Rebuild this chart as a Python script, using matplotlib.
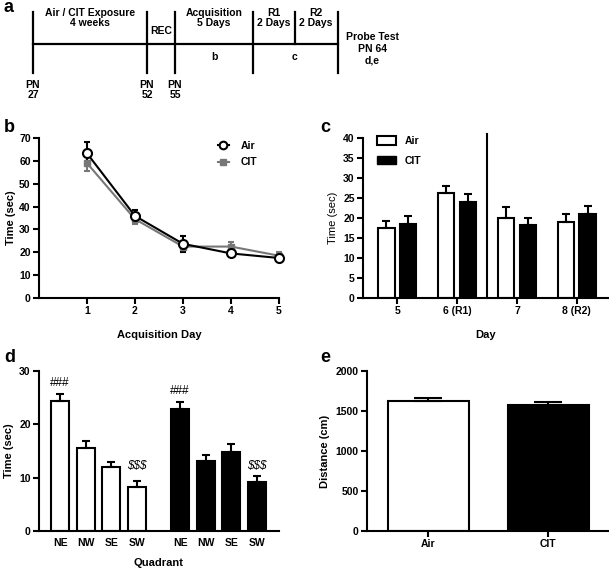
import numpy as np
import matplotlib
matplotlib.use("Agg")
import matplotlib.pyplot as plt
from matplotlib.patches import Patch
from matplotlib.lines import Line2D

plt.rcParams['font.family'] = ['Liberation Sans', 'DejaVu Sans']
plt.rcParams['font.weight'] = 'bold'
plt.rcParams['axes.labelweight'] = 'bold'

# --- data ---
acq_days = [1, 2, 3, 4, 5]
acq_air = [63.3, 35.9, 23.7, 19.5, 17.5]
acq_air_err = [5.0, 2.5, 3.5, 1.5, 1.5]
acq_cit = [59.0, 34.5, 22.5, 22.5, 18.5]
acq_cit_err = [3.5, 2.0, 2.5, 2.0, 1.5]

day_labels = ["5", "6 (R1)", "7", "8 (R2)"]
day_air = [17.5, 26.2, 20.0, 19.0]
day_air_err = [1.7, 1.8, 2.7, 2.0]
day_cit = [18.4, 23.9, 18.2, 21.1]
day_cit_err = [2.0, 2.1, 1.8, 1.9]

quadrants = ["NE", "NW", "SE", "SW"]
quad_air = [24.4, 15.5, 12.0, 8.2]
quad_air_err = [1.3, 1.3, 0.9, 1.2]
quad_cit = [22.8, 13.2, 14.9, 9.2]
quad_cit_err = [1.4, 1.1, 1.4, 1.1]

groups = ["Air", "CIT"]
distance = [1620, 1580]
distance_err = [45, 30]

W, H = 609, 570
fig = plt.figure(figsize=(W / 100, H / 100), dpi=100)


def px_axes(left, top, right, bottom):
    # axes placed by pixel box
    return fig.add_axes([left / W, 1 - bottom / H, (right - left) / W, (bottom - top) / H])


def style(ax):
    for s in ["top", "right"]:
        ax.spines[s].set_visible(False)
    for s in ["left", "bottom"]:
        ax.spines[s].set_linewidth(1.5)
    ax.tick_params(width=1.5, length=4, labelsize=7.5, pad=2)


# --- panel a: timeline ---
axa = fig.add_axes([0, 0, 1, 1])
axa.set_xlim(0, W)
axa.set_ylim(H, 0)
axa.axis("off")
axa.set_zorder(-1)
bounds = [33, 147, 175, 253, 338]
axa.plot([33, 338], [44, 44], color="black", lw=1.6)
for xb in bounds:
    axa.plot([xb, xb], [12, 73], color="black", lw=1.6)
axa.plot([295, 295], [12, 44], color="black", lw=1.6)
fs = 7.5
axa.text(90, 18, "Air / CIT Exposure\n4 weeks", ha="center", va="center", fontsize=fs, linespacing=1.1)
axa.text(161, 31, "REC", ha="center", va="center", fontsize=fs)
axa.text(214, 18, "Acquisition\n5 Days", ha="center", va="center", fontsize=fs, linespacing=1.1)
axa.text(274, 18, "R1\n2 Days", ha="center", va="center", fontsize=fs, linespacing=1.1)
axa.text(316, 18, "R2\n2 Days", ha="center", va="center", fontsize=fs, linespacing=1.1)
axa.text(372, 49, "Probe Test\nPN 64\nd,e", ha="center", va="center", fontsize=fs, linespacing=1.2)
axa.text(214, 57, "b", ha="center", va="center", fontsize=fs)
axa.text(295, 57, "c", ha="center", va="center", fontsize=fs)
for xb, pn in [(33, "27"), (147, "52"), (175, "55")]:
    axa.text(xb, 90, "PN\n" + pn, ha="center", va="center", fontsize=fs, linespacing=1.1)
for lbl, xl, yl in [("a", 4, 8), ("b", 4, 128), ("c", 320, 128), ("d", 4, 357), ("e", 320, 357)]:
    axa.text(xl, yl, lbl, ha="left", va="center", fontsize=13)

# --- panel b: acquisition ---
axb = px_axes(39, 138, 279, 298)
axb.errorbar(acq_days, acq_cit, yerr=acq_cit_err, color="#777777", lw=1.5, marker="s",
             markersize=4.5, capsize=2.5, capthick=1.5, elinewidth=1.5, clip_on=False, label="CIT")
axb.errorbar(acq_days, acq_air, yerr=acq_air_err, color="black", lw=1.5, marker="o",
             markersize=6.5, markerfacecolor="white", markeredgewidth=1.5, capsize=2.5,
             capthick=1.5, elinewidth=1.5, clip_on=False, label="Air")
axb.set_xlim(0, 5)
axb.set_ylim(0, 70)
axb.set_xticks(acq_days)
axb.set_yticks(range(0, 71, 10))
style(axb)
axb.set_xlabel("Acquisition Day", fontsize=8, labelpad=10)
axb.set_ylabel("Time (sec)", fontsize=8, labelpad=2)
h = [Line2D([], [], color="black", lw=1.5, marker="o", markersize=5.5, markerfacecolor="white", markeredgewidth=1.5),
     Line2D([], [], color="#777777", lw=1.5, marker="s", markersize=4)]
axb.legend(h, ["Air", "CIT"], loc="upper right", frameon=False, fontsize=7.5, handlelength=1.0,
           handletextpad=1.2, bbox_to_anchor=(0.95, 1.04), labelspacing=0.6)

# --- panel c: days ---
axc = px_axes(363, 138, 608, 298)
xc = np.arange(len(day_labels))
bw = 0.28
axc.bar(xc - 0.183, day_air, bw, color="white", edgecolor="black", lw=1.5,
        yerr=[np.zeros(4), day_air_err], capsize=3, error_kw=dict(elinewidth=1.5, capthick=1.5))
axc.bar(xc + 0.183, day_cit, bw, color="black", edgecolor="black", lw=1.5,
        yerr=[np.zeros(4), day_cit_err], capsize=3, error_kw=dict(elinewidth=1.5, capthick=1.5))
axc.plot([1.5, 1.5], [0, 41], color="black", lw=1.5, clip_on=False)
axc.set_xlim(-0.57, 3.52)
axc.set_ylim(0, 40)
axc.set_xticks(xc)
axc.set_xticklabels(day_labels)
axc.set_yticks(range(0, 41, 5))
style(axc)
axc.set_xlabel("Day", fontsize=8, labelpad=10)
axc.set_ylabel("Time (sec)", fontsize=8, fontweight="normal", labelpad=4)
axc.legend([Patch(facecolor="white", edgecolor="black", lw=1.5), Patch(facecolor="black", edgecolor="black")],
           ["Air", "CIT"], loc="upper left", frameon=False, fontsize=7.5, handlelength=1.8,
           handleheight=0.9, bbox_to_anchor=(0.02, 1.07), labelspacing=0.9)

# --- panel d: quadrants ---
axd = px_axes(39, 371, 279, 531)
xa = np.arange(4)
xcit = xa + 4.67
bw = 0.7
axd.bar(xa, quad_air, bw, color="white", edgecolor="black", lw=1.5,
        yerr=[np.zeros(4), quad_air_err], capsize=3, error_kw=dict(elinewidth=1.5, capthick=1.5))
axd.bar(xcit, quad_cit, bw, color="black", edgecolor="black", lw=1.5,
        yerr=[np.zeros(4), quad_cit_err], capsize=3, error_kw=dict(elinewidth=1.5, capthick=1.5))
axd.text(xa[0], quad_air[0] + quad_air_err[0] + 2.0, "###", ha="center", va="center", fontsize=8.5, fontweight="normal")
axd.text(xcit[0], quad_cit[0] + quad_cit_err[0] + 2.0, "###", ha="center", va="center", fontsize=8.5, fontweight="normal")
axd.text(xa[3], 12.2, "$$$", ha="center", va="center", fontsize=8.5, fontweight="normal", style="italic")
axd.text(xcit[3], 12.2, "$$$", ha="center", va="center", fontsize=8.5, fontweight="normal", style="italic")
axd.set_xlim(-0.82, 8.52)
axd.set_ylim(0, 30)
axd.set_xticks(np.concatenate([xa, xcit]))
axd.set_xticklabels(quadrants + quadrants)
axd.set_yticks([0, 10, 20, 30])
style(axd)
axd.tick_params(axis="x", length=0, pad=5)
axd.set_xlabel("Quadrant", fontsize=8, labelpad=7)
axd.set_ylabel("Time (sec)", fontsize=8, labelpad=4)

# --- panel e: distance ---
axe = px_axes(367, 371, 608, 531)
xe = np.arange(len(groups))
axe.bar(xe, distance, 0.675, color=["white", "black"], edgecolor="black", lw=1.5,
        yerr=[np.zeros(2), distance_err], capsize=10, error_kw=dict(elinewidth=1.5, capthick=1.5))
axe.set_xlim(-0.51, 1.5)
axe.set_ylim(0, 2000)
axe.set_xticks(xe)
axe.set_xticklabels(groups)
axe.set_yticks(range(0, 2001, 500))
style(axe)
axe.set_ylabel("Distance (cm)", fontsize=8, labelpad=4)

fig.savefig("out.png", dpi=100)
